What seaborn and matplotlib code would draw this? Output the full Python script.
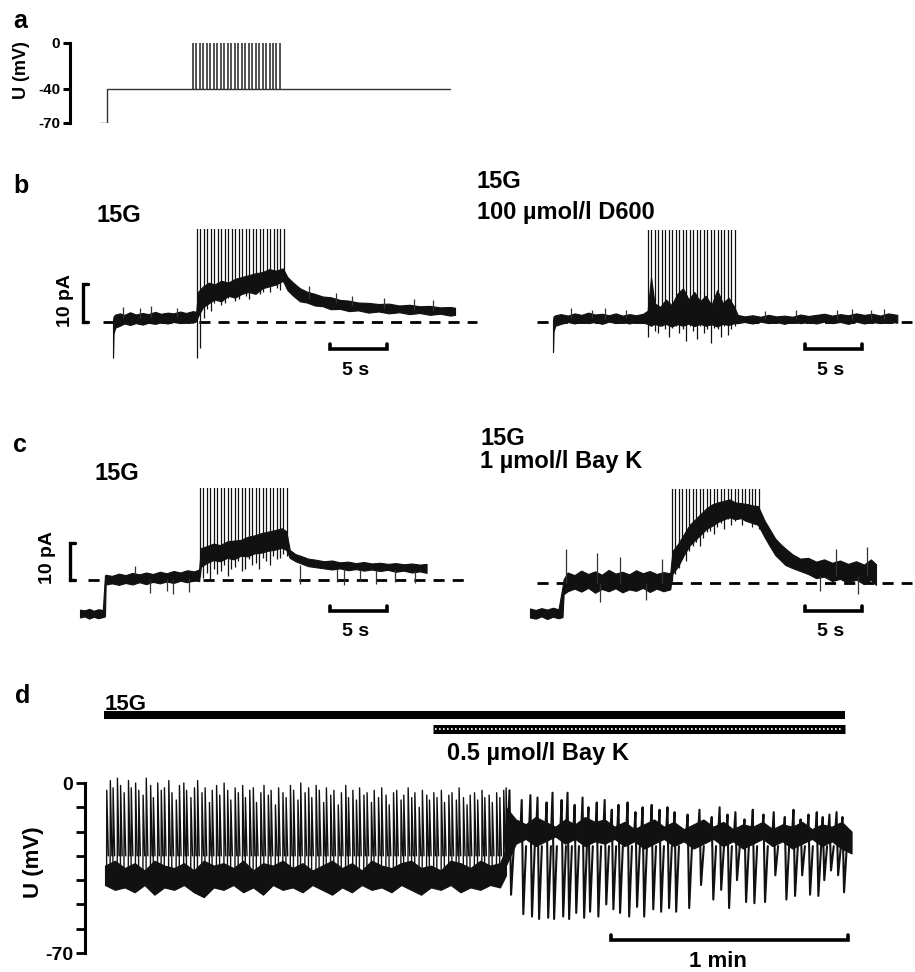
import numpy as np
import matplotlib
matplotlib.use("Agg")
import matplotlib.pyplot as plt
import seaborn as sns

sns.set_style("white")
plt.rcParams['font.family'] = ['Liberation Sans', 'DejaVu Sans']
plt.rcParams['font.weight'] = 'bold'
plt.rcParams['text.color'] = 'black'
plt.rcParams['ytick.color'] = 'black'
plt.rcParams['axes.edgecolor'] = 'black'

# ---------------- data ----------------
# stimulation train (s after train start), shared by a, b, c
train_offsets = [0.00, 0.30, 0.61, 0.91, 1.22, 1.52, 1.83, 2.13, 2.44, 2.74,
                 3.05, 3.35, 3.66, 3.96, 4.27, 4.57, 4.88, 5.18, 5.49, 5.79,
                 6.10, 6.40, 6.71, 7.01, 7.32, 7.62]

# a: voltage protocol (s, mV)
a_hold_t = [0.0, 0.61, 0.61, 30.7]
a_hold_v = [-70, -70, -40, -40]
a_train_start = 8.16

# b left: 15G (s, pA)
bl_t = [0.00, 0.05, 0.20, 0.6, 1.0, 1.5, 2.0, 2.6, 3.1, 3.7,
        4.2, 4.8, 5.3, 5.9, 6.4, 7.0, 7.3, 7.45, 7.9, 8.4,
        8.9, 9.5, 10.1, 10.7, 11.3, 11.9, 12.5, 13.1, 13.7, 14.3,
        14.9, 15.3, 15.8, 16.4, 17.0, 17.7, 18.4, 19.1, 19.9, 20.7,
        21.5, 22.4, 23.3, 24.2, 25.1, 26.0, 26.9, 27.8, 28.7, 29.6,
        30.0]
bl_lo = [-9.5, -3.0, -1.5, -1.0, -0.4, -0.8, -0.3, -0.7, -0.2, -0.5,
         -0.1, -0.4, 0.0, -0.3, 0.1, -0.2, 0.2, 1.5, 4.0, 5.0,
         6.0, 5.5, 7.0, 6.5, 7.5, 8.0, 7.5, 9.0, 9.5, 10.0,
         11.0, 8.5, 7.0, 5.5, 5.2, 4.4, 4.2, 3.4, 3.5, 2.9,
         3.1, 2.5, 2.8, 2.3, 2.6, 2.1, 2.4, 1.9, 2.2, 1.7,
         1.9]
bl_hi = [0.5, 1.5, 2.0, 2.3, 1.9, 2.6, 2.0, 2.4, 2.1, 2.7,
         2.2, 2.5, 2.3, 2.8, 2.4, 2.9, 2.7, 8.0, 9.5, 10.5,
         10.0, 11.0, 10.5, 11.5, 12.0, 12.5, 13.0, 13.3, 14.1, 13.7,
         14.3, 12.0, 10.5, 9.0, 8.1, 7.5, 6.8, 6.6, 5.9, 5.7,
         5.2, 5.1, 4.8, 4.9, 4.4, 4.6, 4.2, 4.3, 3.9, 4.0,
         3.8]
bl_train = 7.37
bl_spk_lo = [-9.5, -7.0, 1.0, 3.5, 3.0, 5.0, 6.0, 4.5, 5.0, 6.5,
             7.0, 5.5, 6.0, 8.0, 7.0, 6.0, 8.5, 9.0, 7.5, 8.0,
             9.5, 8.0, 10.0, 9.0, 8.5, 10.5]
# single noise excursions (time, from, to)
bl_nz_t = [0.9, 2.4, 3.3, 5.6, 17.2, 19.6, 21.0, 23.8, 26.4, 28.1]
bl_nz_a = [1.0, 1.0, 1.2, 1.3, 6.0, 5.0, 4.2, 3.6, 3.2, 3.0]
bl_nz_b = [4.0, 3.6, 4.2, 3.8, 9.5, 7.8, 7.0, 6.3, 6.0, 5.8]

# b right: 15G + 100 umol/l D600
br_t = [0.00, 0.05, 0.2, 0.7, 1.3, 1.9, 2.5, 3.1, 3.7, 4.3,
        4.9, 5.5, 6.1, 6.7, 7.3, 7.9, 8.3, 8.6, 8.9, 9.4,
        9.9, 10.4, 10.9, 11.4, 11.9, 12.4, 12.9, 13.4, 13.9, 14.4,
        14.9, 15.4, 15.9, 16.2, 16.8, 17.5, 18.2, 18.9, 19.6, 20.3,
        21.0, 21.7, 22.4, 23.1, 23.8, 24.5, 25.2, 25.9, 26.6, 27.3,
        28.0, 28.7, 29.4, 30.2]
br_lo = [-8.0, -2.5, -1.0, -0.5, 0.0, -0.4, 0.1, -0.3, 0.0, -0.5,
         0.1, -0.3, 0.0, -0.4, 0.1, -0.2, -0.5, -1.0, -0.5, -1.0,
         -0.5, -1.2, -0.6, -1.0, -0.4, -1.1, -0.5, -1.0, -0.6, -1.2,
         -0.5, -0.8, -0.3, -0.3, 0.0, -0.4, 0.1, -0.3, 0.0, -0.5,
         0.1, -0.3, 0.0, -0.4, 0.1, -0.3, 0.0, -0.5, 0.1, -0.4,
         0.0, -0.3, 0.1, -0.2]
br_hi = [0.5, 1.5, 1.8, 2.1, 1.7, 2.3, 1.9, 2.5, 2.0, 2.2,
         1.8, 2.3, 1.7, 2.1, 1.8, 2.2, 3.0, 12.0, 5.0, 4.0,
         6.0, 4.5, 7.5, 9.0, 6.0, 8.0, 5.5, 7.0, 4.5, 8.5,
         5.0, 6.5, 4.0, 1.9, 1.5, 1.8, 1.4, 1.9, 1.5, 1.7,
         1.4, 2.0, 1.6, 1.9, 2.2, 1.7, 2.1, 1.8, 2.3, 1.9,
         2.2, 1.7, 2.3, 1.9]
br_train = 8.33
br_spk_lo = [-4.0, -1.0, -2.5, -3.0, -1.0, -2.0, -4.0, -1.5, -1.0, -3.0,
             -2.0, -5.0, -1.0, -2.5, -4.5, -1.0, -3.0, -2.0, -5.5, -1.5,
             -2.0, -4.0, -1.0, -3.5, -2.0, -1.0]
br_nz_t = [1.6, 3.4, 4.6, 6.4, 18.6, 21.3, 24.9, 26.2, 27.9, 29.0]
br_nz_a = [1.0, 1.0, 0.8, 1.0, 0.8, 0.8, 0.8, 0.8, 0.8, 0.8]
br_nz_b = [3.6, 3.2, 3.8, 3.3, 3.0, 3.1, 3.3, 3.4, 3.1, 3.5]

# c left: 15G
cl_t = [0.0, 0.4, 0.8, 1.2, 1.6, 2.0, 2.19, 2.25, 2.8, 3.4,
        4.0, 4.6, 5.2, 5.8, 6.4, 7.0, 7.6, 8.2, 8.8, 9.4,
        10.0, 10.45, 10.6, 11.1, 11.7, 12.3, 12.9, 13.5, 14.1, 14.7,
        15.3, 15.9, 16.5, 17.1, 17.7, 18.1, 18.4, 18.9, 19.4, 20.0,
        20.7, 21.4, 22.1, 22.8, 23.5, 24.2, 24.9, 25.6, 26.3, 27.0,
        27.7, 28.4, 29.1, 29.8, 30.4]
cl_lo = [-10.0, -9.7, -10.3, -9.8, -10.2, -9.9, -9.7, -1.2, -0.9, -1.3,
         -0.8, -1.2, -0.6, -1.1, -0.5, -0.9, -0.4, -0.8, -0.2, -0.6,
         -0.1, -0.3, 3.5, 4.5, 5.3, 5.0, 5.9, 5.5, 6.5, 6.3,
         7.1, 7.3, 7.8, 8.1, 8.6, 8.0, 5.9, 5.0, 4.4, 3.7,
         3.4, 3.1, 2.8, 3.1, 2.6, 2.9, 2.5, 2.8, 2.4, 2.7,
         2.2, 2.5, 2.0, 2.3, 1.9]
cl_hi = [-7.9, -8.1, -7.7, -8.2, -7.8, -8.0, 1.2, 1.4, 1.1, 1.7,
         1.3, 1.9, 1.5, 2.0, 1.6, 2.2, 1.8, 2.4, 2.0, 2.6,
         2.3, 2.8, 8.5, 9.0, 9.7, 9.3, 10.3, 10.5, 10.7, 11.5,
         11.9, 12.5, 12.9, 13.3, 13.8, 13.0, 8.0, 6.9, 6.4, 5.7,
         5.4, 5.0, 5.2, 4.7, 4.9, 4.5, 4.8, 4.4, 4.6, 4.3,
         4.5, 4.2, 4.4, 4.1, 4.3]
cl_train = 10.53
cl_spk_lo = [1.0, 0.5, 2.0, 0.0, 3.0, 1.5, 2.5, 4.0, 1.0, 3.0,
             3.5, 5.0, 2.5, 3.0, 5.5, 4.0, 4.5, 3.0, 6.0, 5.0,
             4.0, 6.5, 5.5, 6.0, 7.0, 6.5]
cl_nz_t = [6.1, 7.6, 8.2, 9.6, 4.8, 19.3, 22.5, 23.2, 24.6, 26.0, 27.6, 29.4]
cl_nz_a = [0.0, 0.2, 0.2, 0.5, 1.5, 4.0, 3.0, 3.0, 2.8, 2.8, 2.6, 2.5]
cl_nz_b = [-3.5, -3.0, -3.6, -3.2, 3.8, -1.0, -0.5, -1.2, -0.3, -1.0, -0.6, -0.8]

# c right: 15G + 1 umol/l Bay K
cr_t = [0.0, 0.5, 1.0, 1.5, 2.0, 2.5, 2.85, 2.95, 3.3, 3.9,
        4.5, 5.1, 5.7, 6.3, 6.9, 7.5, 8.1, 8.7, 9.3, 9.9,
        10.5, 11.1, 11.7, 12.3, 12.5, 13.0, 13.5, 14.0, 14.5, 15.0,
        15.5, 16.0, 16.5, 17.0, 17.5, 18.0, 18.5, 19.0, 19.5, 20.0,
        20.6, 21.0, 21.5, 22.0, 22.4, 23.0, 23.7, 24.4, 25.1, 25.8,
        26.5, 27.2, 27.9, 28.6, 29.3, 29.9, 30.35]
cr_lo = [-9.2, -9.5, -8.9, -9.6, -9.0, -9.4, -9.1, -3.0, -2.2, -1.5,
         -2.3, -1.3, -2.6, -1.6, -2.2, -1.4, -2.5, -1.7, -2.1, -1.3,
         -2.4, -1.5, -2.2, -1.7, 2.5, 4.5, 7.5, 10.0, 11.5, 13.0,
         14.5, 15.3, 16.3, 17.0, 17.5, 17.0, 17.3, 16.5, 16.0, 15.5,
         12.1, 10.0, 7.5, 6.0, 4.8, 4.0, 3.2, 2.4, 1.3, 1.7,
         0.5, 1.1, 0.0, 0.9, -0.3, 0.8, -0.5]
cr_hi = [-6.8, -7.2, -6.7, -7.1, -6.6, -7.0, -1.0, 1.0, 2.8, 2.1,
         3.3, 2.4, 3.1, 2.2, 3.5, 2.5, 3.0, 2.3, 3.4, 2.6,
         3.2, 2.4, 2.9, 2.6, 8.5, 10.5, 13.0, 15.5, 17.0, 18.5,
         20.0, 21.0, 21.5, 21.9, 22.3, 21.5, 21.3, 21.1, 20.7, 20.5,
         16.5, 14.5, 11.9, 10.3, 9.2, 7.7, 6.5, 6.7, 5.7, 6.3,
         5.4, 6.0, 5.1, 5.8, 4.9, 6.3, 5.0]
cr_train = 12.46
cr_spk_lo = [0.5, 2.5, 4.0, 6.5, 6.0, 8.5, 10.0, 11.0, 10.0, 12.0,
             13.5, 14.0, 13.0, 15.0, 16.0, 14.5, 17.0, 15.5, 16.5, 17.5,
             15.5, 16.5, 17.0, 15.0, 16.0, 14.5]
cr_nz_t = [3.2, 5.9, 6.1, 7.9, 10.2, 11.6, 25.4, 26.8, 28.8, 29.6]
cr_nz_a = [0.0, 0.0, 0.0, 0.0, 0.0, 0.0, 2.0, 2.0, 2.0, 2.0]
cr_nz_b = [9.0, 8.0, -5.0, 7.0, -4.5, 6.5, -2.0, 9.0, -3.0, 9.5]

# d: membrane potential (s, mV), 15G then 0.5 umol/l Bay K
d_spk_t = [0.4, 1.3, 2.0, 3.1, 3.9, 4.8, 5.9, 6.6, 7.7, 8.5,
           9.6, 10.4, 11.5, 12.2, 13.3, 14.2, 15.0, 16.1, 16.9, 18.0,
           18.8, 19.9, 20.6, 21.7, 22.6, 23.4, 24.5, 25.3, 26.4, 27.1,
           28.2, 29.0, 30.1, 31.0, 31.8, 32.9, 33.7, 34.8, 35.5, 36.6,
           37.5, 38.3, 39.4, 40.2, 41.3, 42.0, 43.1, 43.9, 45.0, 45.8,
           46.9, 47.7, 48.8, 49.5, 50.6, 51.5, 52.3, 53.4, 54.2, 55.3,
           56.0, 57.1, 57.9, 59.0, 59.8, 60.9, 61.6, 62.7, 63.6, 64.4,
           65.5, 66.3, 67.4, 68.1, 69.2, 70.0, 71.1, 71.9, 73.0, 73.8,
           74.9, 75.6, 76.7, 77.6, 78.4, 79.5, 80.3, 81.4, 82.1, 83.2,
           84.0, 85.1, 85.9, 87.0, 87.8, 88.9, 89.6, 90.7, 91.6, 92.4,
           93.5, 94.3, 95.4, 96.1, 97.2, 98.0, 99.1, 99.9, 100.9, 101.5]
d_spk_peak = [-3, 1, -2, 2, -1, -4, 1, -2, 0, -3,
              -5, 2, -1, -6, 0, -3, -2, 1, -4, -7,
              -1, 0, -3, -6, -2, 1, -4, -2, -8, -3,
              -1, -5, 0, -3, -7, -2, -4, -1, -6, -3,
              -2, -8, -4, -1, -5, -3, -9, -2, -4, -6,
              -1, -3, -7, 0, -4, -2, -6, -1, -3, -8,
              -2, -5, -3, -9, -4, -1, -6, -3, -7, -2,
              -5, -4, -8, -3, -6, -2, -5, -9, -4, -3,
              -7, -5, -2, -6, -4, -10, -3, -5, -7, -4,
              -6, -3, -8, -5, -4, -7, -2, -6, -9, -5,
              -4, -7, -3, -6, -5, -8, -4, -6, -3, -2]
d_pre_t = [0, 2.5, 5, 7.5, 10, 12.5, 15, 17.5, 20, 22.5,
           25, 27.5, 30, 32.5, 35, 37.5, 40, 42.5, 45, 47.5,
           50, 52.5, 55, 57.5, 60, 62.5, 65, 67.5, 70, 72.5,
           75, 77.5, 80, 82.5, 85, 87.5, 90, 92.5, 95, 97.5,
           100, 101.5]
d_pre_lo = [-42, -44, -43, -45, -42, -46, -43, -44, -42, -45,
            -47, -43, -44, -42, -45, -43, -46, -42, -44, -43,
            -45, -42, -44, -46, -43, -45, -42, -44, -43, -45,
            -42, -44, -46, -43, -44, -42, -45, -43, -44, -42,
            -43, -38]
d_pre_hi = [-34, -32, -35, -33, -36, -32, -34, -35, -33, -36,
            -32, -34, -33, -35, -32, -36, -33, -34, -32, -35,
            -33, -36, -34, -32, -35, -33, -36, -32, -34, -35,
            -33, -32, -35, -34, -36, -32, -33, -35, -32, -34,
            -33, -27]
d_post_t = [101.5, 104, 106.5, 109, 111.5, 114, 116.5, 119, 121.5, 124, 126.5, 129,
            131.5, 134, 136.5, 139, 141.5, 144, 146.5, 149, 151.5, 154, 156.5, 159,
            161.5, 164, 166.5, 169, 171.5, 174, 176.5, 179, 181.5, 184, 186.5, 189]
d_post_lo = [-34, -25, -23, -26, -24, -22, -25, -23, -26, -24, -25, -23,
             -26, -24, -27, -25, -23, -26, -24, -27, -25, -23, -26, -24,
             -27, -25, -23, -26, -24, -27, -25, -23, -26, -24, -27, -29]
d_post_hi = [-10, -15, -17, -14, -16, -18, -15, -17, -14, -16, -15, -18,
             -16, -19, -17, -15, -18, -16, -19, -17, -15, -18, -16, -19,
             -17, -18, -16, -19, -17, -18, -16, -19, -17, -18, -16, -20]
d_ev_t = [102.5, 105.6, 107.8, 109.6, 111.9, 113.4, 115.7, 117.2, 119.0, 121.0,
          122.5, 124.6, 126.6, 128.4, 130.1, 132.4, 134.4, 136.2, 138.5, 140.5,
          142.5, 144.3, 147.6, 150.6, 153.7, 155.7, 157.7, 159.7, 162.0, 164.1,
          166.8, 169.4, 172.2, 174.4, 176.2, 178.2, 180.3, 181.8, 183.5, 185.3,
          186.8]
d_ev_min = [-46, -54, -55, -56, -55.5, -56, -55, -56, -53.5, -55.5,
            -53, -55, -50, -52, -53.5, -55, -51, -55, -52, -53,
            -51.5, -53, -51.5, -42, -48, -44, -51.5, -40, -49, -49.5,
            -49, -38, -48, -46.5, -38, -46, -46.5, -40, -36, -38,
            -45]
d_ev_peak = [-3, -7, -5, -6, -8, -4, -7, -4, -9, -6,
             -10, -8, -7, -11, -9, -8, -12, -10, -9, -11,
             -10, -12, -13, -11, -14, -10, -13, -12, -15, -11,
             -13, -12, -14, -11, -15, -13, -12, -14, -13, -12,
             -14]

# ---------------- layout (figure pixels) ----------------
W, H = 915, 972
PX_S = 11.4      # px per second, panels a-c
PX_PA = 3.75     # px per pA
PX_S_D = 3.95    # px per second, panel d
INK = '#111111'

fig = plt.figure(figsize=(W / 100, H / 100), dpi=100, facecolor='white')


def px_ax(x0, x1, y0, y1, xorig, pxs, ylim):
    ax = fig.add_axes([x0 / W, 1 - y1 / H, (x1 - x0) / W, (y1 - y0) / H])
    ax.set_xlim((x0 - xorig) / pxs, (x1 - xorig) / pxs)
    ax.set_ylim(*ylim)
    ax.set_facecolor('none')
    return ax


def cur_ax(x0, x1, y0, y1, xorig, yzero):
    ax = px_ax(x0, x1, y0, y1, xorig, PX_S,
               ((yzero - y1) / PX_PA, (yzero - y0) / PX_PA))
    ax.axis('off')
    return ax


def ftext(x, y, s, **kw):
    kw.setdefault('fontweight', 'bold')
    kw.setdefault('color', 'black')
    fig.text(x / W, 1 - y / H, s, **kw)


def draw_current(ax, t, lo, hi, train, spk_lo, nz, dash_from, dash_to):
    ax.plot([dash_from, dash_to], [0, 0], color='k', lw=2.0,
            dashes=(4, 2.9), clip_on=False, zorder=1)
    ax.fill_between(t, lo, hi, color=INK, lw=0.8, edgecolor=INK, zorder=2)
    spikes = np.array(train_offsets) + train
    ax.vlines(spikes, spk_lo, 40, color=INK, lw=0.9, zorder=3)
    ax.vlines(nz[0], nz[1], nz[2], color='#333333', lw=0.9, zorder=3)


def scalebar(ax, t1, t2, y, tick):
    ax.plot([t1, t1, t2, t2], [y + tick, y, y, y + tick], color='k', lw=2.6,
            clip_on=False, solid_joinstyle='miter')


def bracket(ax, t, serif):
    ax.plot([t + serif, t, t, t + serif], [10, 10, 0, 0], color='k', lw=2.4,
            clip_on=False, solid_joinstyle='miter')


# ---- a ----
ax_a = px_ax(70, 460, 43, 123, 100, PX_S, (-70, 0))
sns.lineplot(x=a_hold_t, y=a_hold_v, ax=ax_a, color='#333333', lw=1.0,
             estimator=None, sort=False)
ax_a.vlines(np.array(train_offsets) + a_train_start, -40, 0, color='#222222', lw=1.1)
ax_a.set_xticks([])
ax_a.set_yticks([-70, -40, 0])
ax_a.set_yticklabels(['-70', '-40', '0'], fontsize=11, fontweight='bold')
ax_a.tick_params(axis='y', direction='out', length=5, width=2.2, pad=2, left=True,
                 colors='black')
sns.despine(ax=ax_a, bottom=True)
ax_a.spines['left'].set_linewidth(2.2)
ax_a.set_ylabel('')
ftext(21, 70, 'U (mV)', fontsize=13, rotation=90, ha='center', va='center')
ftext(13, 28, 'a', fontsize=18)

# ---- b ----
ax_bl = cur_ax(40, 480, 229, 380, 113, 322)
draw_current(ax_bl, bl_t, bl_lo, bl_hi, bl_train, bl_spk_lo,
             (bl_nz_t, bl_nz_a, bl_nz_b), -0.88, 31.9)
bracket(ax_bl, -2.63, 0.44)
scalebar(ax_bl, 19.04, 24.04, -7.2, 1.3)

ax_br = cur_ax(500, 915, 230, 380, 553, 322)
draw_current(ax_br, br_t, br_lo, br_hi, br_train, br_spk_lo,
             (br_nz_t, br_nz_a, br_nz_b), -1.4, 31.5)
scalebar(ax_br, 22.1, 27.1, -7.2, 1.3)

ftext(13, 193, 'b', fontsize=18)
ftext(97, 222, '15G', fontsize=17)
ftext(477, 188, '15G', fontsize=17)
ftext(477, 219, '100 µmol/l D600', fontsize=17)
ftext(66, 300, '10 pA', fontsize=14, rotation=90, ha='center', va='center')
ftext(356, 375, '5 s', fontsize=14, ha='center')
ftext(831, 375, '5 s', fontsize=14, ha='center')

# ---- c ----
ax_cl = cur_ax(40, 480, 488, 640, 80, 580)
draw_current(ax_cl, cl_t, cl_lo, cl_hi, cl_train, cl_spk_lo,
             (cl_nz_t, cl_nz_a, cl_nz_b), 0.70, 34.2)
bracket(ax_cl, -0.88, 0.44)
scalebar(ax_cl, 21.93, 26.93, -8.27, 1.3)

ax_cr = cur_ax(500, 915, 489, 640, 530, 583)
draw_current(ax_cr, cr_t, cr_lo, cr_hi, cr_train, cr_spk_lo,
             (cr_nz_t, cr_nz_a, cr_nz_b), 0.61, 33.5)
scalebar(ax_cr, 24.12, 29.12, -7.47, 1.3)

ftext(13, 452, 'c', fontsize=18)
ftext(95, 480, '15G', fontsize=17)
ftext(480, 445, '15G', fontsize=17)
ftext(480, 468, '1 µmol/l Bay K', fontsize=17)
ftext(48, 557, '10 pA', fontsize=14, rotation=90, ha='center', va='center')
ftext(356, 636, '5 s', fontsize=14, ha='center')
ftext(831, 636, '5 s', fontsize=14, ha='center')

# ---- d ----
ax_d = px_ax(85, 870, 783, 953, 105, PX_S_D, (-70, 0))
ax_d.fill_between(d_pre_t, d_pre_lo, d_pre_hi, color=INK, lw=0.8, edgecolor=INK)
ax_d.fill_between(d_post_t, d_post_lo, d_post_hi, color=INK, lw=0.8, edgecolor=INK)

# action potentials before Bay K
xs, ys = [], []
for t, pk in zip(d_spk_t, d_spk_peak):
    xs += [t, t + 0.05, t + 0.45, np.nan]
    ys += [-38, pk, -30, np.nan]
ax_d.plot(xs, ys, color=INK, lw=1.0, clip_on=False)

# depolarised plateau with repolarising dips after Bay K
xs, ys = [], []
for t, pk, mn in zip(d_ev_t, d_ev_peak, d_ev_min):
    xs += [t - 0.5, t - 0.1, t + 0.3, t + 1.0, np.nan]
    ys += [-22, pk, mn, -26, np.nan]
ax_d.plot(xs, ys, color=INK, lw=1.5)

ax_d.set_xticks([])
ax_d.set_yticks(range(-70, 1, 10))
ax_d.set_yticklabels(['-70', '', '', '', '', '', '', '0'], fontsize=14, fontweight='bold')
ax_d.tick_params(axis='y', direction='out', length=6.5, width=2.0, pad=2, left=True,
                 colors='black')
sns.despine(ax=ax_d, bottom=True)
ax_d.spines['left'].set_linewidth(2.2)
ax_d.set_facecolor('none')

# solution bars
ax_d.plot([-0.25, 187.3], [28.0, 28.0], color='k', lw=5.8,
          solid_capstyle='butt', clip_on=False)
ax_d.plot([83.0, 187.3], [22.4, 22.4], color='k', lw=6.5,
          solid_capstyle='butt', clip_on=False)
ax_d.plot([83.6, 186.8], [22.4, 22.4], color='white', lw=1.2,
          dashes=(1, 1.4), clip_on=False)
scalebar(ax_d, 128.1, 188.1, -64.6, 2.0)

ftext(15, 703, 'd', fontsize=18)
ftext(105, 710, '15G', fontsize=16)
ftext(447, 760, '0.5 µmol/l Bay K', fontsize=17)
ftext(33, 862, 'U (mV)', fontsize=16, rotation=90, ha='center', va='center')
ftext(718, 961, '1 min', fontsize=16, ha='center', va='center')

fig.savefig('out.png', dpi=100, facecolor='white')
